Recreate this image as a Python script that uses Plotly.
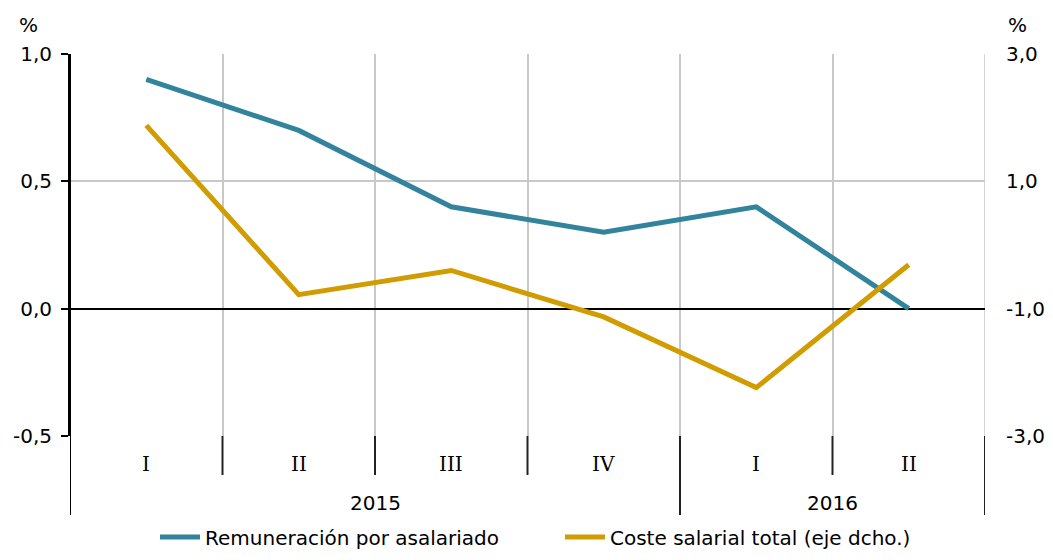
import plotly.graph_objects as go

quarters = ["I", "II", "III", "IV", "I", "II"]
years = ["2015", "2016"]
year_spans = [(0, 3), (4, 5)]
remuneracion = [0.9, 0.7, 0.4, 0.3, 0.4, 0.0]
coste = [1.88, -0.78, -0.40, -1.13, -2.24, -0.31]
left_tickvals = [-0.5, 0.0, 0.5, 1.0]
left_ticktext = ["-0,5", "0,0", "0,5", "1,0"]
right_tickvals = [-3.0, -1.0, 1.0, 3.0]
right_ticktext = ["-3,0", "-1,0", "1,0", "3,0"]

BLUE = "#31849B"
GOLD = "#D09C00"
FONT = "Verdana, DejaVu Sans, sans-serif"
FS = 20

x = list(range(len(quarters)))
fig = go.Figure()
fig.add_trace(go.Scatter(x=x, y=remuneracion, mode="lines", name="Remuneración por asalariado",
                         line=dict(color=BLUE, width=5)))
fig.add_trace(go.Scatter(x=x, y=coste, mode="lines", name="Coste salarial total (eje dcho.)",
                         line=dict(color=GOLD, width=5), yaxis="y2"))

W, HT = 1045, 544
ML, MR, MT, MB = 62, 68, 46, 116
H = HT - MT - MB
PW = W - ML - MR
OFF = 8

def py(p):
    return (436 - p) / H

def px(p):
    return (p - 70) / PW

shapes = []
n = len(quarters)
for i in range(1, n):
    b = i - 0.5
    long = any(abs(b - (s[0] - 0.5)) < 1e-9 for s in year_spans[1:])
    shapes.append(dict(type="line", xref="x", yref="paper", x0=b, x1=b, y0=0,
                       y1=py(515 if long else 475), line=dict(color="#222222", width=2)))
shapes.append(dict(type="line", xref="x", yref="paper", x0=-0.5, x1=-0.5, y0=1, y1=py(515),
                   line=dict(color="#000000", width=2)))
shapes.append(dict(type="line", xref="x", yref="paper", x0=n - 0.5, x1=n - 0.5, y0=0, y1=py(515),
                   line=dict(color="#222222", width=2)))
shapes.append(dict(type="line", xref="x", yref="paper", x0=n - 0.5, x1=n - 0.5, y0=0, y1=1,
                   line=dict(color="#c8c8c8", width=1.5), layer="below"))

annotations = []
for i, q in enumerate(quarters):
    annotations.append(dict(x=i, y=py(464), xref="x", yref="paper", text=q, showarrow=False,
                            font=dict(family="DejaVu Serif, serif", size=FS, color="#000"),
                            yanchor="middle"))
for yname, (a, b) in zip(years, year_spans):
    annotations.append(dict(x=(a + b) / 2, y=py(503), xref="x", yref="paper", text=yname,
                            showarrow=False, font=dict(family=FONT, size=FS, color="#000"),
                            yanchor="middle"))
for xc in (28, 1017):
    annotations.append(dict(x=px(xc), y=py(25), xref="paper", yref="paper", text="%",
                            showarrow=False, font=dict(family=FONT, size=FS, color="#000"),
                            yanchor="middle", xanchor="center"))

fig.update_layout(
    width=W, height=HT,
    margin=dict(l=ML, r=MR, t=MT, b=MB, autoexpand=False),
    paper_bgcolor="white", plot_bgcolor="white",
    font=dict(family=FONT, size=FS, color="#000"),
    showlegend=True,
    legend=dict(orientation="h", x=px(560), xanchor="center", xref="paper",
                yref="container", y=(HT - (537 - OFF)) / HT, yanchor="middle",
                font=dict(family=FONT, size=FS), itemwidth=40, entrywidth=350,
                traceorder="normal"),
    xaxis=dict(range=[-0.5, n - 0.5], tickvals=[i + 0.5 for i in range(n - 1)], showticklabels=False,
               showgrid=True, gridcolor="#c8c8c8", gridwidth=1.5, zeroline=False, ticks="",
               showline=False, fixedrange=True),
    yaxis=dict(range=[-0.5, 1.0], tickvals=left_tickvals, ticktext=left_ticktext, showgrid=True,
               gridcolor="#c8c8c8", gridwidth=1.5, zeroline=True, zerolinecolor="#000",
               zerolinewidth=2, showline=True, linecolor="#000", linewidth=2,
               ticks="outside", ticklen=7, tickcolor="#000", tickwidth=1.5, ticklabelstandoff=5),
    yaxis2=dict(range=[-3, 3], tickvals=right_tickvals, ticktext=right_ticktext, overlaying="y",
                side="right", showgrid=False, zeroline=False, showline=False, ticks="",
                ticklabelstandoff=20),
    shapes=shapes,
    annotations=annotations,
)

fig.write_html("out.html")
